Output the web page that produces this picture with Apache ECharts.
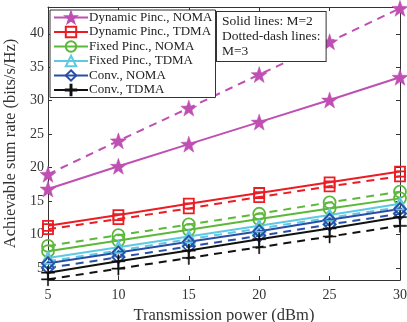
<!DOCTYPE html>
<html>
<head>
<meta charset="utf-8">
<script src="https://cdn.jsdelivr.net/npm/echarts@6/dist/echarts.min.js"></script>
<style>
  html, body { margin: 0; padding: 0; background: #fff; }
  #chart { width: 407px; height: 322px; }
</style>
</head>
<body>
<div id="chart"></div>
<script>
// transmission power (dBm)
const power = [5, 10, 15, 20, 25, 30]
const yTicks = [5, 10, 15, 20, 25, 30, 35, 40]

// solid lines: M=2, dashed lines: M=3
const dynNomaM2 = [16.8, 20.2, 23.5, 26.8, 30.1, 33.5]
const dynNomaM3 = [19.0, 24.0, 28.9, 33.9, 38.8, 43.8]
const dynTdmaM2 = [11.3, 12.9, 14.6, 16.2, 17.8, 19.4]
const dynTdmaM3 = [10.8, 12.3, 13.9, 15.6, 17.2, 18.7]
const fixNomaM2 = [7.5, 9.1, 10.7, 12.3, 13.9, 15.4]
const fixNomaM3 = [8.3, 9.9, 11.5, 13.1, 14.8, 16.4]
const fixTdmaM2 = [6.5, 8.1, 9.7, 11.3, 12.9, 14.6]
const fixTdmaM3 = [6.0, 7.6, 9.3, 10.9, 12.5, 14.1]
const convNomaM2 = [5.7, 7.3, 8.9, 10.5, 12.2, 13.8]
const convNomaM3 = [5.0, 6.6, 8.2, 9.8, 11.5, 13.1]
const convTdmaM2 = [4.3, 6.0, 7.6, 9.3, 10.9, 12.6]
const convTdmaM3 = [3.3, 4.9, 6.5, 8.1, 9.7, 11.3]

const names = ['Dynamic Pinc., NOMA', 'Dynamic Pinc., TDMA', 'Fixed Pinc., NOMA',
  'Fixed Pinc., TDMA', 'Conv., NOMA', 'Conv., TDMA']

const starPath = 'path://M0,-10L2.35,-3.24L9.51,-3.09L3.8,1.24L5.88,8.09L0,4L-5.88,8.09L-3.8,1.24L-9.51,-3.09L-2.35,-3.24Z'
const plusPath = 'path://M-0.9,-10L0.9,-10L0.9,-0.9L10,-0.9L10,0.9L0.9,0.9L0.9,10L-0.9,10L-0.9,0.9L-10,0.9L-10,-0.9L-0.9,-0.9Z'

const styles = [
  { color: '#bf4fb2', symbol: starPath, size: 16, filled: true },
  { color: '#ec1c24', symbol: 'rect', size: 10 },
  { color: '#5cb83a', symbol: 'circle', size: 12 },
  { color: '#5fc8e2', symbol: 'triangle', size: 12 },
  { color: '#2a4ea6', symbol: 'diamond', size: 12 },
  { color: '#111111', symbol: plusPath, size: 13, filled: true }
]

const solidData = [dynNomaM2, dynTdmaM2, fixNomaM2, fixTdmaM2, convNomaM2, convTdmaM2]
const dashData = [dynNomaM3, dynTdmaM3, fixNomaM3, fixTdmaM3, convNomaM3, convTdmaM3]

const makeSeries = (name, values, st, dashed) => ({
  name: name,
  type: 'line',
  data: values.map((v, i) => [power[i], v]),
  symbol: st.symbol,
  symbolSize: st.size,
  showAllSymbol: true,
  lineStyle: { color: st.color, width: 2, type: dashed ? [8, 6] : 'solid' },
  itemStyle: st.filled
    ? { color: st.color, borderColor: st.color, borderWidth: 0.5 }
    : { color: 'rgba(255,255,255,0)', borderColor: st.color, borderWidth: 1.8 },
  emphasis: { disabled: true },
  z: dashed ? 2 : 3
})

const series = []
names.forEach((n, i) => {
  series.push(makeSeries(n, solidData[i], styles[i], false))
  series.push(makeSeries(n + ' (M=3)', dashData[i], styles[i], true))
})

const font = 'Liberation Serif, Times New Roman, serif'
const axisColor = '#333'

const chart = echarts.init(document.getElementById('chart'))
chart.setOption({
  animation: false,
  textStyle: { fontFamily: font },
  grid: { left: 48, right: 7, top: 7, bottom: 42, outerBoundsMode: 'none', containLabel: false },
  legend: {
    data: names,
    orient: 'vertical',
    left: 50,
    top: 10,
    itemWidth: 34,
    itemHeight: 13,
    itemGap: 1.5,
    padding: [1, 3, 1, 3],
    backgroundColor: '#fff',
    borderColor: '#333',
    borderWidth: 1,
    borderRadius: 0,
    selectedMode: false,
    textStyle: { fontFamily: font, fontSize: 13, color: '#222', padding: [0, 0, 0, -4] }
  },
  xAxis: [
    {
      type: 'value', min: 5, max: 30, interval: 5,
      name: 'Transmission power (dBm)', nameLocation: 'middle', nameGap: 17,
      nameTextStyle: { fontFamily: font, fontSize: 16.5, color: '#333' },
      axisLine: { lineStyle: { color: axisColor } },
      axisTick: { inside: true, length: 4, lineStyle: { color: axisColor } },
      axisLabel: { fontFamily: font, fontSize: 14, color: '#333', margin: 8 },
      splitLine: { show: false }
    },
    {
      type: 'value', min: 5, max: 30, interval: 5, position: 'top',
      axisLine: { onZero: false, lineStyle: { color: axisColor } },
      axisTick: { inside: true, length: 4, lineStyle: { color: axisColor } },
      axisLabel: { show: false },
      splitLine: { show: false }
    }
  ],
  yAxis: [
    {
      type: 'value', min: 3.2, max: 44,
      name: 'Achievable sum rate (bits/s/Hz)', nameLocation: 'middle', nameGap: 23,
      nameTextStyle: { fontFamily: font, fontSize: 16.5, color: '#333' },
      axisLine: { show: true, lineStyle: { color: axisColor } },
      axisTick: { show: true, inside: true, length: 4, customValues: yTicks, lineStyle: { color: axisColor } },
      axisLabel: { customValues: yTicks, fontFamily: font, fontSize: 14, color: '#333', margin: 4 },
      splitLine: { show: false }
    },
    {
      type: 'value', min: 3.2, max: 44, position: 'right',
      axisLine: { show: true, onZero: false, lineStyle: { color: axisColor } },
      axisTick: { show: true, inside: true, length: 4, customValues: yTicks, lineStyle: { color: axisColor } },
      axisLabel: { show: false },
      splitLine: { show: false }
    }
  ],
  graphic: [
    {
      type: 'text',
      left: 216,
      top: 11,
      z: 100,
      style: {
        text: 'Solid lines: M=2\nDotted-dash lines:\nM=3',
        font: '13.5px ' + font,
        fill: '#222',
        lineHeight: 15,
        backgroundColor: '#fff',
        borderColor: '#333',
        borderWidth: 1,
        padding: [2, 5, 2, 5]
      }
    }
  ],
  series: series
})
</script>
</body>
</html>
